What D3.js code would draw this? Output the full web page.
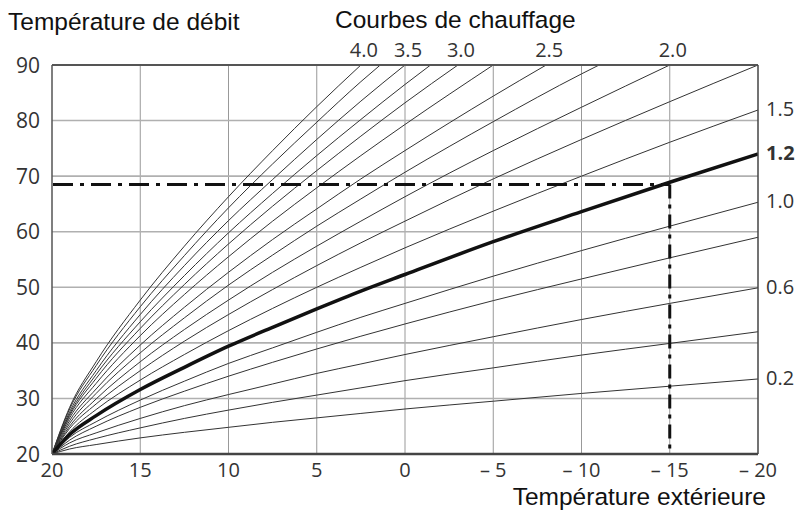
<!DOCTYPE html>
<html>
<head>
<meta charset="utf-8">
<script src="https://cdn.jsdelivr.net/npm/d3@7"></script>
<style>
  html, body { margin: 0; padding: 0; background: #fff; }
  svg { display: block; }
</style>
</head>
<body>
<svg id="chart" width="804" height="510"></svg>
<script>
// ---- data ----
const outdoorTemps = [20, 19, 17.5, 15, 12.5, 10, 7.5, 5, 2.5, 0, -5, -10, -15, -20];
const slopes = [0.2, 0.4, 0.6, 0.8, 1.0, 1.2, 1.5, 1.75, 2.0, 2.25, 2.5, 2.75, 3.0, 3.25, 3.5, 3.75, 4.0];
const curveValues = [
  [20, 20.9, 21.7, 22.9, 23.9, 24.8, 25.7, 26.5, 27.3, 28.1, 29.5, 30.9, 32.2, 33.5],
  [20, 21.4, 22.8, 24.7, 26.4, 27.9, 29.3, 30.6, 31.9, 33.2, 35.5, 37.8, 39.9, 42.0],
  [20, 22.0, 23.8, 26.4, 28.7, 30.7, 32.6, 34.5, 36.2, 37.9, 41.1, 44.2, 47.1, 49.9],
  [20, 22.5, 25.0, 28.4, 31.3, 34.0, 36.5, 38.9, 41.2, 43.4, 47.6, 51.5, 55.3, 59.0],
  [20, 23.0, 25.8, 29.7, 33.1, 36.3, 39.1, 41.9, 44.6, 47.1, 52.0, 56.6, 61.0, 65.3],
  [20, 23.5, 26.9, 31.6, 35.6, 39.4, 42.8, 46.1, 49.3, 52.3, 58.2, 63.6, 68.9, 74.0],
  [20, 24.0, 28.0, 33.3, 37.9, 42.2, 46.2, 50.0, 53.6, 57.1, 63.7, 70.0, 76.1, 81.9],
  [20, 24.6, 29.0, 35.0, 40.3, 45.1, 49.6, 53.9, 58.0, 61.9, 69.5, 76.6, 83.4, 90.0],
  [20, 25.0, 29.9, 36.6, 42.4, 47.7, 52.7, 57.4, 61.9, 66.3, 74.6, 82.4, 90.0, null],
  [20, 25.5, 30.9, 38.2, 44.5, 50.4, 55.8, 61.0, 65.9, 70.7, 79.8, 88.4, null, null],
  [20, 26.0, 31.7, 39.6, 46.4, 52.7, 58.6, 64.1, 69.5, 74.6, 84.4, null, null, null],
  [20, 26.5, 32.7, 41.3, 48.7, 55.5, 61.9, 67.9, 73.7, 79.3, 90.0, null, null, null],
  [20, 26.9, 33.6, 42.6, 50.5, 57.8, 64.6, 71.0, 77.2, 83.2, null, null, null, null],
  [20, 27.2, 34.3, 43.8, 52.1, 59.8, 66.9, 73.7, 80.2, 86.5, null, null, null, null],
  [20, 27.6, 35.0, 45.1, 53.9, 62.0, 69.4, 76.6, 83.5, 90.0, null, null, null, null],
  [20, 28.1, 35.9, 46.5, 55.7, 64.3, 72.2, 79.7, 87.0, null, null, null, null, null],
  [20, 28.4, 36.6, 47.7, 57.4, 66.3, 74.6, 82.5, null, null, null, null, null, null]
];
// outdoor temperature where each curve reaches the 90 °C top edge (null = ends on right edge)
const topCrossings = [null, null, null, null, null, null, null, -20, -15, -11, -8, -5, -3, -1.45, 0, 1.4, 2.5];
const boldSlope = 1.2;
const topLabels = ["4.0", "3.5", "3.0", "2.5", "2.0"];
const rightLabels = ["1.5", "1.2", "1.0", "0.6", "0.2"];
const xTicks = [20, 15, 10, 5, 0, -5, -10, -15, -20];
const xTickLabels = ["20", "15", "10", "5", "0", "\u2013 5", "\u2013 10", "\u2013 15", "\u2013 20"];
const yTicks = [20, 30, 40, 50, 60, 70, 80, 90];
const designPoint = { outdoor: -15, flow: 68.5 };

// ---- layout ----
const svg = d3.select("#chart");
const L = 52, R = 758, T = 65, B = 454;
const x = d3.scaleLinear().domain([20, -20]).range([L, R]);
const y = d3.scaleLinear().domain([20, 90]).range([B, T]);

// gridlines
svg.append("g").selectAll("line").data(xTicks.slice(1, -1)).join("line")
  .attr("x1", d => x(d)).attr("x2", d => x(d)).attr("y1", T).attr("y2", B)
  .attr("stroke", "#999").attr("stroke-width", 1);
svg.append("g").selectAll("line").data(yTicks.slice(1, -1)).join("line")
  .attr("x1", L).attr("x2", R).attr("y1", d => y(d)).attr("y2", d => y(d))
  .attr("stroke", "#b0b0b0").attr("stroke-width", 1.6);

// curves
svg.append("clipPath").attr("id", "plotclip").append("rect")
  .attr("x", L).attr("y", T).attr("width", R - L).attr("height", B - T);
const line = d3.line().x(d => x(d[0])).y(d => y(d[1])).curve(d3.curveMonotoneX);
const curves = slopes.map((s, i) => {
  const pts = [];
  outdoorTemps.forEach((t, j) => { if (curveValues[i][j] != null) pts.push([t, curveValues[i][j]]); });
  const c = topCrossings[i];
  if (c != null && pts[pts.length - 1][0] > c) pts.push([c, 90]);
  return { slope: s, pts, cross: c };
});
const g = svg.append("g").attr("clip-path", "url(#plotclip)");
g.selectAll("path.thin").data(curves.filter(c => c.slope !== boldSlope)).join("path")
  .attr("d", d => line(d.pts)).attr("fill", "none").attr("stroke", "#333").attr("stroke-width", 1);

// design dash-dot lines
const dashStyle = sel => sel.attr("stroke", "#111").attr("stroke-width", 3).attr("stroke-dasharray", "20,7,4,7");
svg.append("line").attr("x1", L + 1).attr("x2", x(designPoint.outdoor)).attr("y1", y(designPoint.flow)).attr("y2", y(designPoint.flow)).call(dashStyle);
svg.append("line").attr("x1", x(designPoint.outdoor)).attr("x2", x(designPoint.outdoor)).attr("y1", y(designPoint.flow)).attr("y2", B).call(dashStyle)
  .attr("stroke-dasharray", "14,6,4,6");

g.selectAll("path.bold").data(curves.filter(c => c.slope === boldSlope)).join("path")
  .attr("d", d => line(d.pts)).attr("fill", "none").attr("stroke", "#111").attr("stroke-width", 3.5);

// frame
svg.append("line").attr("x1", L).attr("x2", R).attr("y1", T).attr("y2", T).attr("stroke", "#555").attr("stroke-width", 2);
svg.append("line").attr("x1", L).attr("x2", R).attr("y1", B).attr("y2", B).attr("stroke", "#444").attr("stroke-width", 2.5);
svg.append("line").attr("x1", L).attr("x2", L).attr("y1", T).attr("y2", B).attr("stroke", "#555").attr("stroke-width", 1.5);
svg.append("line").attr("x1", R).attr("x2", R).attr("y1", T).attr("y2", B).attr("stroke", "#444").attr("stroke-width", 1.5);

// tick labels
const tickFont = "'Open Sans', sans-serif";
svg.append("g").selectAll("text").data(yTicks).join("text")
  .attr("x", 40).attr("y", d => y(d)).attr("dy", "0.36em").attr("text-anchor", "end")
  .attr("font-family", tickFont).attr("font-size", 21).attr("fill", "#333").text(d => d);
svg.append("g").selectAll("text").data(xTicks).join("text")
  .attr("x", d => x(d)).attr("y", 477).attr("text-anchor", "middle")
  .attr("font-family", tickFont).attr("font-size", 20).attr("fill", "#333").text((d, i) => xTickLabels[i]);

// slope labels on top
svg.append("g").selectAll("text").data(topLabels).join("text")
  .attr("x", d => x(curves.find(c => c.slope === +d).cross) + 3).attr("y", 57).attr("text-anchor", "middle")
  .attr("font-family", tickFont).attr("font-size", 20).attr("fill", "#333").text(d => d);
// slope labels on right
svg.append("g").selectAll("text").data(rightLabels).join("text")
  .attr("x", R + 8).attr("y", d => { const c = curves.find(c => c.slope === +d); return y(c.pts[c.pts.length - 1][1]) + 6; })
  .attr("font-family", tickFont).attr("font-size", 20).attr("fill", "#333")
  .attr("font-weight", d => +d === boldSlope ? "bold" : "normal").text(d => d);

// titles
const titleFont = "'Liberation Sans', Arial, sans-serif";
svg.append("text").attr("x", 8).attr("y", 30).attr("font-family", titleFont).attr("font-size", 24.5).attr("fill", "#111").text("Température de débit");
svg.append("text").attr("x", 335).attr("y", 28).attr("font-family", titleFont).attr("font-size", 24.5).attr("fill", "#111").text("Courbes de chauffage");
svg.append("text").attr("x", 766).attr("y", 505).attr("text-anchor", "end").attr("font-family", titleFont).attr("font-size", 24.5).attr("fill", "#111").text("Température extérieure");
</script>
</body>
</html>
